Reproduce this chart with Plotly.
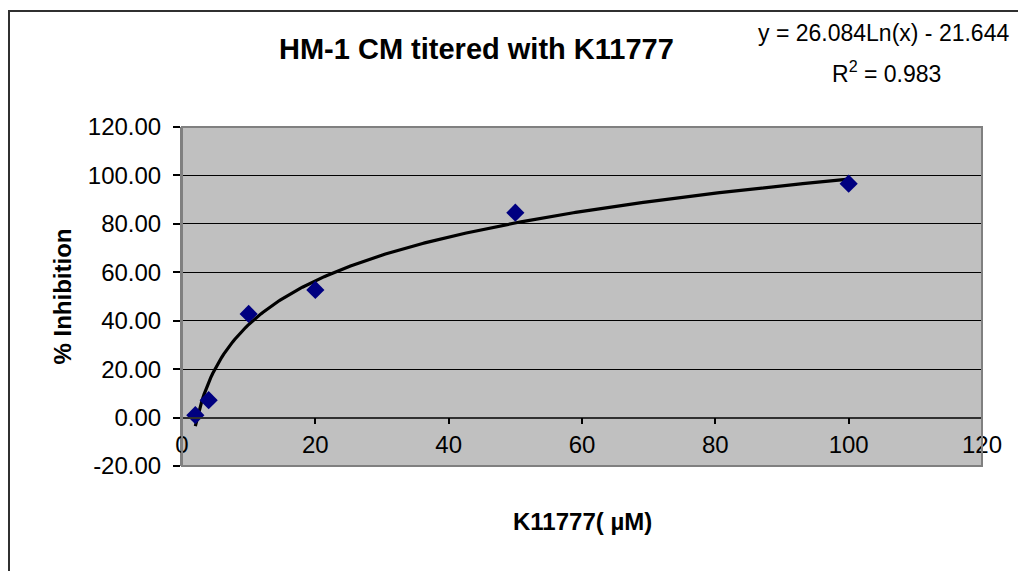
import numpy as np
import plotly.graph_objects as go

# ---- data ----
conc_um = [2, 4, 10, 20, 50, 100]
inhibition = [1.0, 7.2, 42.8, 52.7, 84.6, 96.6]

# logarithmic trendline coefficients (as shown on the chart)
fit_slope = 26.084
fit_intercept = -21.644
fit_r2 = 0.983

x_tick_vals = [0, 20, 40, 60, 80, 100, 120]
x_tick_labels = ["0", "20", "40", "60", "80", "100", "120"]
y_tick_vals = [-20, 0, 20, 40, 60, 80, 100, 120]
y_tick_labels = ["-20.00", "0.00", "20.00", "40.00", "60.00", "80.00", "100.00", "120.00"]

title_text = "HM-1 CM titered with K11777"
x_title = "K11777( µM)"
y_title = "% Inhibition"

# ---- figure geometry ----
W, H = 1018, 571
L, R, T, B = 182, 36, 127, 105
pw, ph = W - L - R, H - T - B


def px(xp):
    return (xp - L) / pw


def py(yp):
    return (H - B - yp) / ph


FONT = "Arial, Liberation Sans, sans-serif"

fit_x = np.linspace(min(conc_um), max(conc_um), 300)
fit_y = fit_slope * np.log(fit_x) + fit_intercept

fig = go.Figure()
fig.add_trace(go.Scatter(
    x=fit_x, y=fit_y, mode="lines",
    line=dict(color="black", width=3.2), hoverinfo="skip", showlegend=False))
fig.add_trace(go.Scatter(
    x=conc_um, y=inhibition, mode="markers",
    marker=dict(symbol="diamond", size=14, color="#000080"),
    showlegend=False))

y_min, y_max = -20, 120
zero_pos = (0 - y_min) / (y_max - y_min)

fig.update_layout(
    width=W, height=H,
    margin=dict(l=L, r=R, t=T, b=B, pad=0),
    paper_bgcolor="white",
    plot_bgcolor="#C0C0C0",
    font=dict(family=FONT, size=24, color="black"),
    xaxis=dict(
        range=[0, 120], tickvals=x_tick_vals, ticktext=x_tick_labels,
        showgrid=False, zeroline=False,
        anchor="free", position=zero_pos,
        showline=True, linecolor="#303030", linewidth=1.5,
        ticks="outside", ticklen=6, tickcolor="black", tickwidth=1.5,
        tickfont=dict(family=FONT, size=24, color="black"),
        fixedrange=True,
    ),
    yaxis=dict(
        range=[y_min, y_max], tickvals=y_tick_vals, ticktext=y_tick_labels,
        showgrid=True, gridcolor="black", gridwidth=1,
        zeroline=False,
        showline=True, linecolor="#808080", linewidth=2,
        ticks="outside", ticklen=7, tickcolor="black", tickwidth=1.5,
        ticklabelstandoff=7,
        tickfont=dict(family=FONT, size=24, color="black"),
        fixedrange=True,
    ),
    shapes=[
        # plot area border
        dict(type="rect", xref="paper", yref="paper", x0=0, x1=1, y0=0, y1=1,
             line=dict(color="#808080", width=2), layer="above"),
        # chart outer border
        dict(type="rect", xref="paper", yref="paper",
             x0=px(9), x1=px(W + 20), y0=py(H + 20), y1=py(11),
             line=dict(color="#303030", width=2)),
    ],
    annotations=[
        dict(text="<b>" + title_text + "</b>", x=px(476), y=py(49),
             xref="paper", yref="paper", xanchor="center", yanchor="middle",
             showarrow=False, font=dict(family=FONT, size=29, color="black")),
        dict(text="y = %.3fLn(x) - %.3f" % (fit_slope, -fit_intercept),
             x=px(883), y=py(33), xref="paper", yref="paper",
             xanchor="center", yanchor="middle", showarrow=False,
             font=dict(family=FONT, size=23, color="black")),
        dict(text="R<sup>2</sup> = %.3f" % fit_r2,
             x=px(886), y=py(72), xref="paper", yref="paper",
             xanchor="center", yanchor="middle", showarrow=False,
             font=dict(family=FONT, size=23, color="black")),
        dict(text="<b>" + x_title + "</b>", x=0.5, y=py(521),
             xref="paper", yref="paper", xanchor="center", yanchor="middle",
             showarrow=False, font=dict(family=FONT, size=24, color="black")),
        dict(text="<b>" + y_title + "</b>", x=px(62), y=0.5, textangle=-90,
             xref="paper", yref="paper", xanchor="center", yanchor="middle",
             showarrow=False, font=dict(family=FONT, size=24, color="black")),
    ],
)

fig.write_html("out.html")
